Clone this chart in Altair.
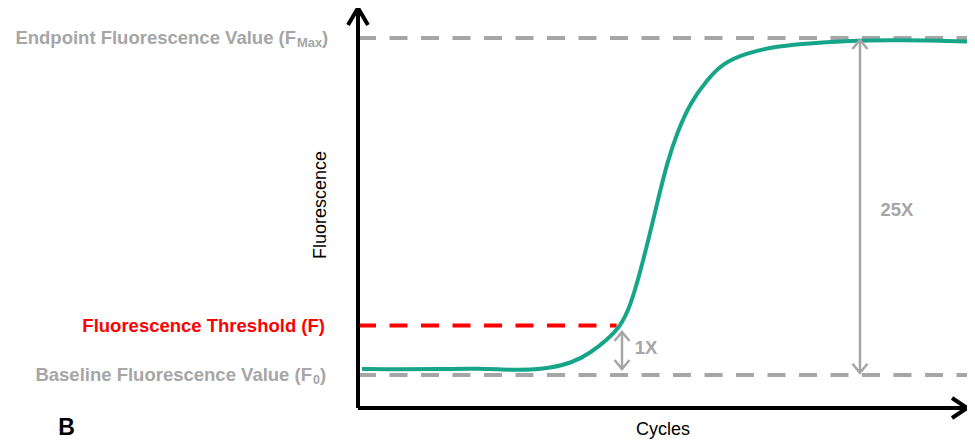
import altair as alt
import pandas as pd

# ---- data ----
cycles = [0.26, 2.76, 5.39, 8.01, 9.98, 11.95, 14.12, 15.24, 16.35, 17.21, 17.87, 18.52,
          19.18, 19.70, 20.30, 20.95, 21.81, 22.92, 23.97, 25.55, 27.26, 28.90, 32.32,
          35.60, 40.0]
fluor = [9.75, 9.62, 9.75, 9.88, 9.5, 9.5, 11.25, 13.75, 17.0, 20.25, 25.25, 33.75,
         43.75, 52.0, 61.25, 68.75, 76.25, 82.0, 86.25, 88.75, 90.25, 91.0, 91.88,
         92.0, 91.62]

f_base = 8.25      # baseline fluorescence F0
f_thr = 20.6       # threshold F
f_max = 92.5       # endpoint Fmax
thr_end = 16.99    # cycle where threshold line stops

arrow_x = [17.34, 32.97]
arrow_lo = [9.75, 8.8]
arrow_hi = [19.0, 92.0]
arrow_text = ["1X", "25X"]
arrow_text_x = [18.92, 35.40]
arrow_text_y = [15.0, 49.5]

X_MAX = 40
Y_MAX = 100

GRAY = "#A6A6A6"
TEAL = "#17A589"
RED = "#FF0000"
FONT = "Liberation Sans"

xs = alt.Scale(domain=[0, X_MAX], nice=False, zero=False)
ys = alt.Scale(domain=[0, Y_MAX], nice=False, zero=False)


def X(f="x"):
    return alt.X(f + ":Q", scale=xs, axis=None)


def Y(f="y"):
    return alt.Y(f + ":Q", scale=ys, axis=None)


curve_df = pd.DataFrame({"x": cycles, "y": fluor})

gray_dash_df = pd.DataFrame({"x": [0, 0], "x2": [X_MAX, X_MAX], "y": [f_max, f_base]})
red_dash_df = pd.DataFrame({"x": [0], "x2": [thr_end], "y": [f_thr]})

gray_dash = alt.Chart(gray_dash_df).mark_rule(
    color=GRAY, strokeWidth=4, strokeDash=[18, 13.5]
).encode(x=X(), x2="x2:Q", y=Y())

red_dash = alt.Chart(red_dash_df).mark_rule(
    color=RED, strokeWidth=4, strokeDash=[18, 13.5]
).encode(x=X(), x2="x2:Q", y=Y())

# axes drawn as arrows
yaxis = alt.Chart(pd.DataFrame({"x": [0], "y": [0], "y2": [Y_MAX]})).mark_rule(
    color="black", strokeWidth=4
).encode(x=X(), y=Y(), y2="y2:Q")
xaxis = alt.Chart(pd.DataFrame({"x": [0], "x2": [X_MAX], "y": [0]})).mark_rule(
    color="black", strokeWidth=4
).encode(x=X(), x2="x2:Q", y=Y())

up_head = alt.Chart(pd.DataFrame({"x": [0], "y": [Y_MAX]})).mark_point(
    shape="M-1,1.7L0,0L1,1.7", size=400, filled=False, stroke="black",
    strokeWidth=4, opacity=1
).encode(x=X(), y=Y())
right_head = alt.Chart(pd.DataFrame({"x": [X_MAX], "y": [0]})).mark_point(
    shape="M-1.5,-1L0,0L-1.5,1", size=400, filled=False, stroke="black",
    strokeWidth=4, opacity=1
).encode(x=X(), y=Y())

curve = alt.Chart(curve_df).mark_line(
    color=TEAL, strokeWidth=4, interpolate="basis"
).encode(x=X(), y=Y())

arr_df = pd.DataFrame({"x": arrow_x, "y": arrow_lo, "y2": arrow_hi})
arr_shaft = alt.Chart(arr_df).mark_rule(color=GRAY, strokeWidth=2.5).encode(
    x=X(), y=Y(), y2="y2:Q")
arr_top = alt.Chart(pd.DataFrame({"x": arrow_x, "y": arrow_hi})).mark_point(
    shape="M-1,1.2L0,0L1,1.2", size=225, filled=False, stroke=GRAY,
    strokeWidth=2.5, opacity=1
).encode(x=X(), y=Y())
arr_bot = alt.Chart(pd.DataFrame({"x": arrow_x, "y": arrow_lo})).mark_point(
    shape="M-1,-1.2L0,0L1,-1.2", size=225, filled=False, stroke=GRAY,
    strokeWidth=2.5, opacity=1
).encode(x=X(), y=Y())

arr_lab = alt.Chart(pd.DataFrame({"x": arrow_text_x, "y": arrow_text_y, "t": arrow_text})).mark_text(
    color=GRAY, font=FONT, fontSize=18.5, fontWeight="bold", align="center", baseline="middle"
).encode(x=X(), y=Y(), text="t:N")


def label(x, y, t, color, size=18.5, weight="bold", align="right", dx=0, dy=0, angle=0):
    return alt.Chart(pd.DataFrame({"x": [x], "y": [y], "t": [t]})).mark_text(
        color=color, font=FONT, fontSize=size, fontWeight=weight, align=align,
        baseline="middle", dx=dx, dy=dy, angle=angle
    ).encode(x=X(), y=Y(), text="t:N")


lab_max_x = -4.07
lab_base_x = -3.02
lab_thr_x = -2.17

labels = [
    label(lab_max_x, f_max, "Endpoint Fluorescence Value (F", GRAY),
    label(lab_max_x, f_max, "Max", GRAY, size=13, align="left", dx=1, dy=5),
    label(lab_max_x, f_max, ")", GRAY, align="left", dx=26),
    label(lab_thr_x, f_thr, "Fluorescence Threshold (F)", RED),
    label(lab_base_x, f_base, "Baseline Fluorescence Value (F", GRAY),
    label(lab_base_x, f_base, "0", GRAY, size=12.5, align="left", dx=1, dy=5),
    label(lab_base_x, f_base, ")", GRAY, align="left", dx=8),
    label(-2.43, 50.75, "Fluorescence", "black", size=18, weight="normal", align="center", angle=270),
    label(20.03, -5.4, "Cycles", "black", size=18, weight="normal", align="center"),
    label(-19.15, -4.9, "B", "black", size=23, weight="bold", align="center"),
]

chart = alt.layer(
    gray_dash, red_dash, yaxis, xaxis, up_head, right_head, curve,
    arr_shaft, arr_top, arr_bot, arr_lab, *labels
).properties(
    width=609, height=400,
    autosize=alt.AutoSizeParams(type="none"),
    padding={"left": 350, "top": 0, "right": 0, "bottom": 32},
).configure_view(stroke=None)

chart.save("out.html", embed_options={"renderer": "svg", "actions": False})
